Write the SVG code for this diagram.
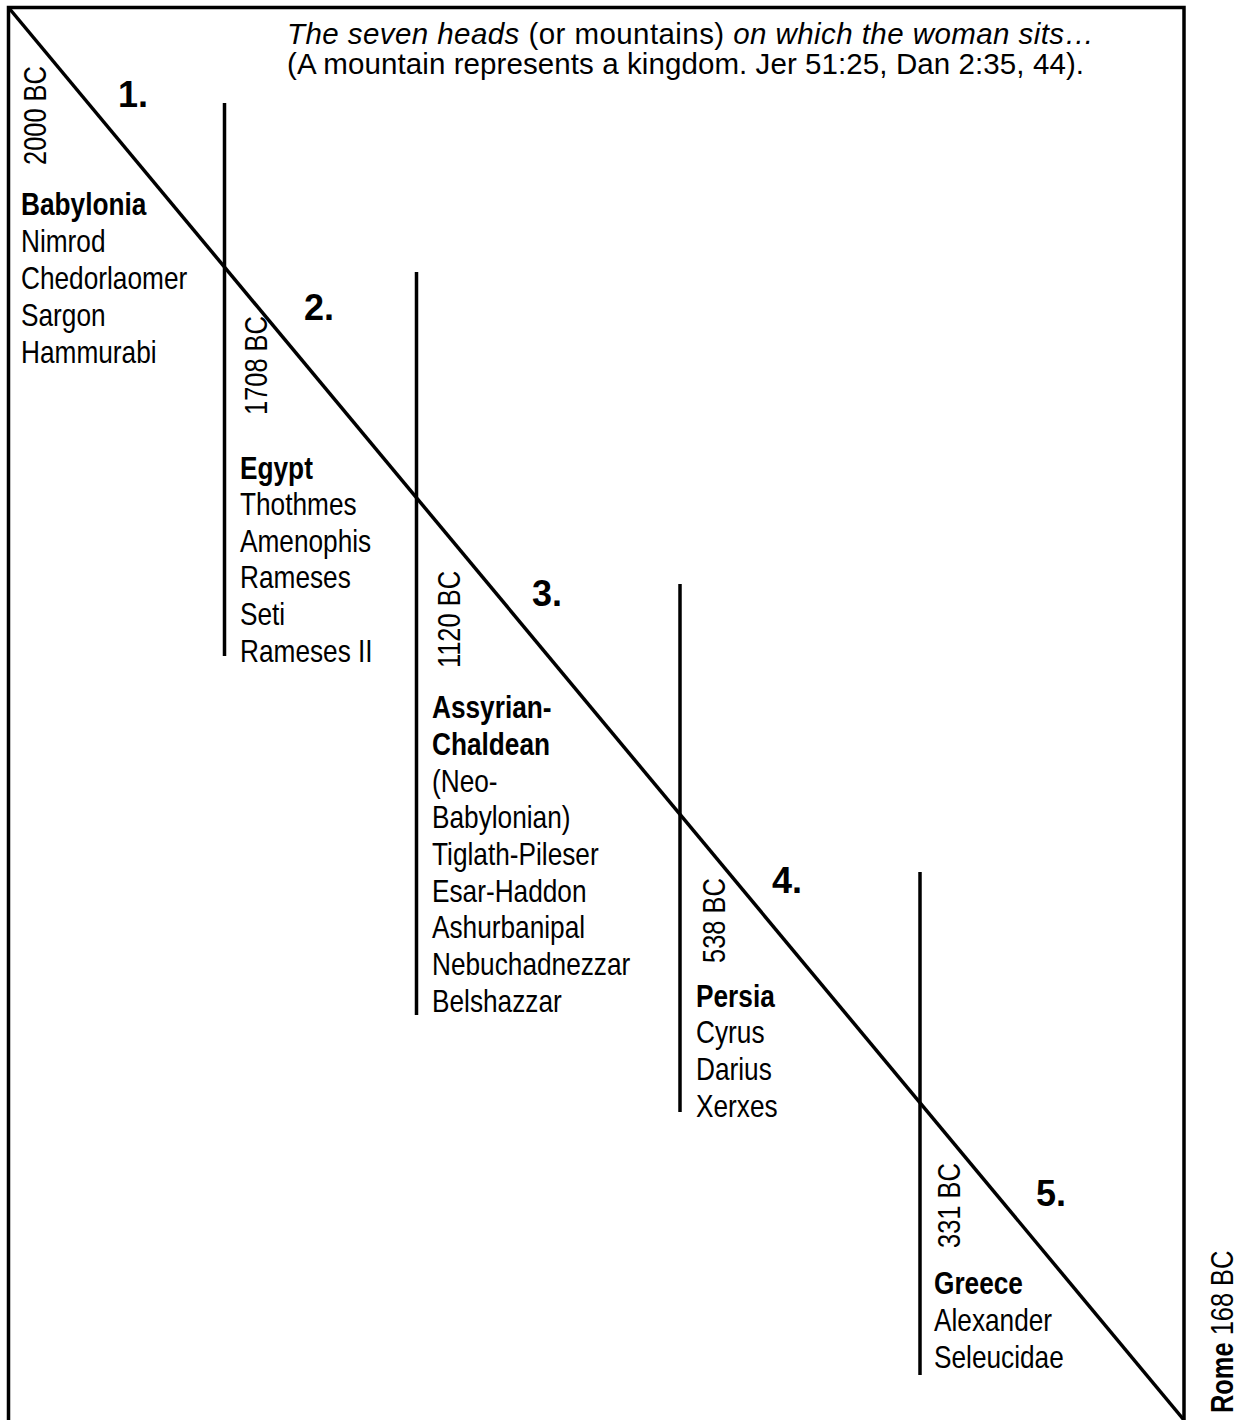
<svg xmlns="http://www.w3.org/2000/svg" width="1249" height="1420" viewBox="0 0 1249 1420">
<style>
.n{font-family:"Liberation Sans",Arial,sans-serif;font-size:32px;fill:#000}
.b{font-weight:bold}
.d{font-family:"Liberation Sans",Arial,sans-serif;font-size:31px;fill:#000}
.num{font-family:"Liberation Sans",Arial,sans-serif;font-size:36px;font-weight:bold;fill:#000}
.t{font-family:"Liberation Sans",Arial,sans-serif;font-size:29.5px;fill:#000}
.ln{stroke:#000;stroke-width:3.5;fill:none}
</style>
<rect width="1249" height="1420" fill="#fff"/>
<g id="connectors">
<polyline class="ln" points="8.5,1420 8.5,7.5 1184,7.5 1184,1420"/>
<line class="ln" stroke-width="3" x1="8.5" y1="7.5" x2="1184" y2="1420"/>
<line class="ln" x1="224.5" y1="103" x2="224.5" y2="656"/>
<line class="ln" x1="416.5" y1="272" x2="416.5" y2="1015"/>
<line class="ln" x1="680" y1="584" x2="680" y2="1112"/>
<line class="ln" x1="920" y1="872" x2="920" y2="1375"/>
</g>
<g id="title">
<text class="t" x="287" y="44" textLength="807"><tspan font-style="italic">The seven heads</tspan> (or mountains) <tspan font-style="italic">on which the woman sits…</tspan></text>
<text class="t" x="287" y="74" textLength="797">(A mountain represents a kingdom. Jer 51:25, Dan 2:35, 44).</text>
</g>
<g id="babylonia">
<text class="d" transform="translate(46,165) rotate(-90) scale(0.82,1)">2000 BC</text>
<text class="num" x="118" y="107">1.</text>
<g transform="translate(21,0) scale(0.82,1)">
<text class="n b" x="0" y="215">Babylonia</text>
<text class="n" x="0" y="252">Nimrod</text>
<text class="n" x="0" y="289">Chedorlaomer</text>
<text class="n" x="0" y="326">Sargon</text>
<text class="n" x="0" y="363">Hammurabi</text>
</g>
</g>
<g id="egypt">
<text class="d" transform="translate(267,415) rotate(-90) scale(0.82,1)">1708 BC</text>
<text class="num" x="304" y="320">2.</text>
<g transform="translate(240,0) scale(0.82,1)">
<text class="n b" x="0" y="479">Egypt</text>
<text class="n" x="0" y="515">Thothmes</text>
<text class="n" x="0" y="552">Amenophis</text>
<text class="n" x="0" y="588">Rameses</text>
<text class="n" x="0" y="625">Seti</text>
<text class="n" x="0" y="662">Rameses II</text>
</g>
</g>
<g id="assyrian">
<text class="d" transform="translate(460,668) rotate(-90) scale(0.82,1)">1120 BC</text>
<text class="num" x="532" y="606">3.</text>
<g transform="translate(432,0) scale(0.82,1)">
<text class="n b" x="0" y="718">Assyrian-</text>
<text class="n b" x="0" y="755">Chaldean</text>
<text class="n" x="0" y="792">(Neo-</text>
<text class="n" x="0" y="828">Babylonian)</text>
<text class="n" x="0" y="865">Tiglath-Pileser</text>
<text class="n" x="0" y="902">Esar-Haddon</text>
<text class="n" x="0" y="938">Ashurbanipal</text>
<text class="n" x="0" y="975">Nebuchadnezzar</text>
<text class="n" x="0" y="1012">Belshazzar</text>
</g>
</g>
<g id="persia">
<text class="d" transform="translate(725,963) rotate(-90) scale(0.82,1)">538 BC</text>
<text class="num" x="772" y="893">4.</text>
<g transform="translate(696,0) scale(0.82,1)">
<text class="n b" x="0" y="1007">Persia</text>
<text class="n" x="0" y="1043">Cyrus</text>
<text class="n" x="0" y="1080">Darius</text>
<text class="n" x="0" y="1117">Xerxes</text>
</g>
</g>
<g id="greece">
<text class="d" transform="translate(960,1248) rotate(-90) scale(0.82,1)">331 BC</text>
<text class="num" x="1036" y="1206">5.</text>
<g transform="translate(934,0) scale(0.82,1)">
<text class="n b" x="0" y="1294">Greece</text>
<text class="n" x="0" y="1331">Alexander</text>
<text class="n" x="0" y="1368">Seleucidae</text>
</g>
</g>
<g id="rome">
<text class="d" transform="translate(1233,1413) rotate(-90) scale(0.82,1)"><tspan font-weight="bold">Rome</tspan> 168 BC</text>
</g>
</svg>
